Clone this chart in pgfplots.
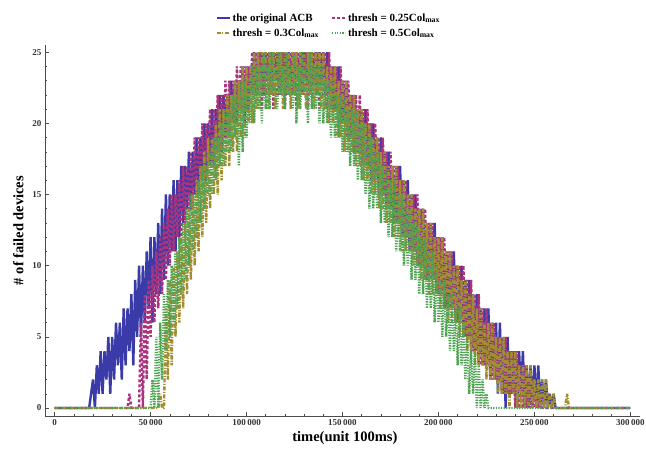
\documentclass[border=0pt]{standalone}
\usepackage{pgfplots}
\pgfplotsset{compat=1.18}
\usepackage{fontspec}
\setmainfont{Liberation Serif}
\definecolor{cblue}{RGB}{58,58,168}
\definecolor{cmag}{RGB}{168,52,125}
\definecolor{colive}{RGB}{162,142,50}
\definecolor{cgreen}{RGB}{78,163,82}
\begin{document}
\begin{tikzpicture}
\useasboundingbox (-45pt,-34pt) rectangle (601pt,416pt);
\begin{axis}[
  scale only axis, width=595pt, height=371pt,
  xmin=-5, xmax=305, ymin=-0.56, ymax=25.5,
  axis x line*=bottom, axis y line*=left,
  axis line style={draw=black!70, line width=0.6pt},
  tick align=inside,
  xtick={0,50,100,150,200,250,300}, minor x tick num=4,
  xticklabels={0,50\,000,100\,000,150\,000,200\,000,250\,000,300\,000},
  ytick={0,5,10,15,20,25}, minor y tick num=4,
  yticklabels={0,5,10,15,20,25},
  major tick length=4pt, minor tick length=2pt,
  tick style={black!70, line width=0.5pt},
  tick label style={font=\bfseries\fontsize{9}{10}\selectfont, text=black!80},
  xlabel={time(unit 100ms)},
  ylabel={\# of failed devices},
  label style={font=\bfseries\fontsize{14.5}{16}\selectfont},
  xlabel style={at={(axis description cs:0.504,-0.059)}, anchor=center},
  ylabel style={at={(axis description cs:-0.045,0.5)}, anchor=center},
  legend columns=2,
  legend style={draw=none, fill=none, font=\bfseries\fontsize{11}{13}\selectfont,
    at={(axis description cs:0.477,1.008)}, anchor=south,
    /tikz/every even column/.append style={column sep=10pt}, row sep=2pt},
  legend cell align=left,
  legend image code/.code={\draw[#1, line width=2pt] (0pt,0pt) -- (13pt,0pt);},
  every axis plot/.append style={line width=2.4pt, line join=bevel},
]
% x in units of 1000 (x 100 ms)
\addplot[cblue] coordinates {
(0,0)(18,0)
(19,1)(20,2)(21,0)(22,3)(23,1)(24,4)(25,1)(26,4)(27,2)(28,5)(29,1)(30,5)(31,2)(32,6)(33,3)(34,6)(35,2)(36,7)(37,3)(38,7)(39,4)(40,8)(41,3)(42,9)(43,5)(44,10)(45,5)(46,10)(47,6)(48,11)(49,7)(50,12)(51,6)(52,12)(53,8)(54,13)(55,8)(56,14)(57,9)(58,15)(59,10)(60,15)(61,11)(62,16)(63,11)(64,16)(65,12)(66,17)(67,13)(68,17)(69,14)(70,18)(71,14)(72,18)(73,15)(74,19)(75,15)(76,19)(77,16)(78,20)(79,16)(80,20)(81,17)(82,21)(83,17)(84,21)(85,18)(86,22)(87,18)(88,22)(89,19)(90,22)(91,19)(92,23)(93,20)(94,23)(95,20)(96,23)(97,21)(98,24)(99,20)(100,24)
(101,21)(102,24)(103,22)(104,25)(105,22)(106,25)(107,23)(108,25)(109,22)(110,25)(111,23)(112,25)(113,22)(114,25)(115,23)(116,25)(117,22)(118,25)(119,23)(120,25)(121,22)(122,25)(123,23)(124,25)(125,22)(126,25)(127,23)(128,25)(129,22)(130,25)(131,23)(132,25)(133,22)(134,25)(135,23)(136,25)(137,22)(138,25)(139,23)(140,25)(141,22)(142,25)(143,22)(144,24)(145,21)(146,24)(147,21)(148,24)(149,20)(150,23)
(151,20)(152,23)(153,19)(154,22)(155,19)(156,22)(157,18)(158,21)(159,18)(160,21)(161,17)(162,21)(163,17)(164,20)(165,16)(166,20)(167,16)(168,19)(169,15)(170,19)(171,15)(172,18)(173,14)(174,18)(175,14)(176,17)(177,13)(178,17)(179,13)(180,17)(181,12)(182,16)(183,12)(184,16)(185,11)(186,15)(187,11)(188,15)(189,10)(190,14)(191,10)(192,14)(193,9)(194,13)(195,9)(196,13)(197,9)(198,13)(199,8)(200,12)
(201,8)(202,12)(203,7)(204,11)(205,7)(206,11)(207,7)(208,11)(209,6)(210,10)(211,6)(212,10)(213,5)(214,9)(215,5)(216,9)(217,4)(218,8)(219,4)(220,8)(221,3)(222,7)(223,3)(224,7)(225,3)(226,7)(227,2)(228,6)(229,2)(230,6)(231,1)(232,6)(233,1)(234,5)(235,0)(236,5)(237,1)(238,4)(239,1)(240,4)(241,0)(242,4)(243,1)(244,4)(245,0)(246,3)(247,0)(248,3)(249,0)(250,3)
(251,0)(252,3)(253,0)(254,2)(255,0)(256,2)(257,0)(258,1)(259,0)(260,1)(261,0)(262,0)(300,0)
};
\addlegendentry{the original ACB}
\addplot[cmag, dash pattern=on 3pt off 2pt] coordinates {
(0,0)(38,0)(39,1)(40,0)(44,0)(45,6)(46,0)(47,8)(48,2)(49,9)(50,5)(51,10)(52,6)(53,11)(54,7)(55,12)(56,8)(57,13)(58,9)(59,14)(60,10)(61,15)(62,11)(63,15)(64,12)(65,16)(66,12)(67,17)(68,13)(69,17)(70,14)(71,18)(72,14)(73,19)(74,15)(75,19)(76,16)(77,20)(78,16)(79,20)(80,17)(81,21)(82,17)(83,21)(84,18)(85,22)(86,18)(87,22)(88,19)(89,23)(90,19)(91,23)(92,20)(93,23)(94,20)(95,24)(96,21)(97,24)(98,21)(99,24)(100,21)
(101,24)(102,22)(103,25)(104,22)(105,25)(106,22)(107,25)(108,21)(109,25)(110,22)(111,25)(112,22)(113,25)(114,21)(115,25)(116,22)(117,25)(118,22)(119,25)(120,21)(121,25)(122,22)(123,25)(124,22)(125,25)(126,21)(127,25)(128,22)(129,25)(130,22)(131,25)(132,21)(133,25)(134,22)(135,25)(136,22)(137,25)(138,21)(139,25)(140,22)(141,25)(142,21)(143,25)(144,21)(145,24)(146,21)(147,24)(148,20)(149,24)(150,20)
(151,23)(152,19)(153,23)(154,19)(155,22)(156,18)(157,22)(158,18)(159,22)(160,17)(161,21)(162,17)(163,21)(164,17)(165,20)(166,16)(167,20)(168,16)(169,19)(170,15)(171,19)(172,15)(173,18)(174,14)(175,18)(176,14)(177,17)(178,13)(179,17)(180,13)(181,16)(182,12)(183,16)(184,12)(185,15)(186,11)(187,15)(188,11)(189,15)(190,10)(191,14)(192,10)(193,14)(194,9)(195,13)(196,9)(197,13)(198,9)(199,12)(200,8)
(201,12)(202,8)(203,12)(204,7)(205,11)(206,7)(207,11)(208,7)(209,10)(210,6)(211,10)(212,6)(213,10)(214,5)(215,9)(216,5)(217,9)(218,4)(219,8)(220,4)(221,8)(222,3)(223,7)(224,3)(225,7)(226,3)(227,6)(228,2)(229,6)(230,2)(231,5)(232,2)(233,5)(234,1)(235,5)(236,1)(237,4)(238,1)(239,4)(240,0)(241,4)(242,0)(243,3)(244,0)(245,3)(246,0)(247,2)(248,0)(249,2)(250,0)
(251,1)(252,0)(253,1)(254,0)(300,0)
};
\addlegendentry{thresh = 0.25Col\textsubscript{max}}
\addplot[colive, dash pattern=on 4pt off 1.5pt on 1pt off 1.5pt] coordinates {
(0,0)(54,0)(55,1)(56,0)(57,0)(58,7)(59,2)(60,9)(61,3)(62,10)(63,5)(64,11)(65,6)(66,12)(67,7)(68,13)(69,8)(70,14)(71,9)(72,15)(73,10)(74,16)(75,11)(76,17)(77,12)(78,18)(79,13)(80,19)(81,14)(82,19)(83,15)(84,20)(85,15)(86,21)(87,16)(88,21)(89,17)(90,22)(91,17)(92,22)(93,18)(94,23)(95,18)(96,23)(97,19)(98,24)(99,19)(100,24)
(101,20)(102,24)(103,20)(104,25)(105,21)(106,25)(107,21)(108,25)(109,22)(110,25)(111,21)(112,25)(113,22)(114,25)(115,21)(116,25)(117,22)(118,25)(119,21)(120,25)(121,22)(122,25)(123,21)(124,25)(125,22)(126,25)(127,21)(128,25)(129,22)(130,25)(131,21)(132,25)(133,22)(134,25)(135,21)(136,25)(137,22)(138,25)(139,21)(140,25)(141,21)(142,24)(143,20)(144,24)(145,20)(146,24)(147,19)(148,23)(149,19)(150,23)
(151,18)(152,23)(153,18)(154,22)(155,18)(156,22)(157,17)(158,21)(159,17)(160,21)(161,16)(162,20)(163,16)(164,20)(165,15)(166,19)(167,15)(168,19)(169,14)(170,18)(171,14)(172,18)(173,13)(174,17)(175,13)(176,17)(177,12)(178,17)(179,12)(180,16)(181,11)(182,16)(183,11)(184,15)(185,11)(186,15)(187,10)(188,14)(189,10)(190,14)(191,9)(192,14)(193,9)(194,13)(195,8)(196,13)(197,8)(198,12)(199,8)(200,12)
(201,7)(202,12)(203,7)(204,11)(205,6)(206,11)(207,6)(208,10)(209,6)(210,10)(211,5)(212,9)(213,5)(214,9)(215,4)(216,8)(217,4)(218,8)(219,3)(220,7)(221,3)(222,7)(223,3)(224,6)(225,2)(226,6)(227,2)(228,6)(229,2)(230,5)(231,1)(232,5)(233,1)(234,5)(235,1)(236,4)(237,0)(238,4)(239,1)(240,4)(241,0)(242,3)(243,0)(244,3)(245,0)(246,3)(247,0)(248,3)(249,0)(250,2)
(251,0)(252,2)(253,0)(254,2)(255,0)(256,2)(257,0)(258,1)(259,0)(260,1)(261,0)(262,0)(266,0)(267,1)(268,0)(300,0)
};
\addlegendentry{thresh = 0.3Col\textsubscript{max}}
\addplot[cgreen, dash pattern=on 1.2pt off 1.4pt] coordinates {
(0,0)(50,0)(51,2)(52,0)(53,5)(54,0)(55,6)(56,2)(57,8)(58,4)(59,9)(60,5)(61,10)(62,6)(63,11)(64,7)(65,12)(66,8)(67,13)(68,9)(69,14)(70,10)(71,15)(72,11)(73,15)(74,12)(75,16)(76,13)(77,17)(78,14)(79,17)(80,15)(81,18)(82,15)(83,19)(84,16)(85,19)(86,17)(87,20)(88,17)(89,21)(90,18)(91,21)(92,18)(93,22)(94,19)(95,22)(96,17)(97,23)(98,18)(99,23)(100,19)
(101,23)(102,20)(103,24)(104,20)(105,24)(106,21)(107,24)(108,20)(109,25)(110,21)(111,24)(112,21)(113,25)(114,22)(115,24)(116,21)(117,25)(118,22)(119,24)(120,21)(121,25)(122,22)(123,24)(124,21)(125,25)(126,20)(127,24)(128,21)(129,25)(130,22)(131,24)(132,20)(133,25)(134,21)(135,24)(136,21)(137,24)(138,20)(139,24)(140,20)(141,23)(142,20)(143,23)(144,19)(145,23)(146,19)(147,22)(148,19)(149,22)(150,18)
(151,22)(152,18)(153,21)(154,17)(155,21)(156,17)(157,21)(158,16)(159,20)(160,16)(161,20)(162,15)(163,19)(164,14)(165,19)(166,14)(167,18)(168,14)(169,18)(170,13)(171,17)(172,13)(173,17)(174,12)(175,16)(176,12)(177,16)(178,11)(179,15)(180,11)(181,15)(182,10)(183,14)(184,10)(185,14)(186,9)(187,13)(188,9)(189,13)(190,8)(191,12)(192,8)(193,12)(194,7)(195,11)(196,7)(197,11)(198,6)(199,10)(200,6)
(201,9)(202,5)(203,9)(204,5)(205,8)(206,4)(207,8)(208,4)(209,7)(210,3)(211,7)(212,3)(213,6)(214,2)(215,5)(216,1)(217,4)(218,1)(219,4)(220,0)(221,3)(222,0)(223,2)(224,0)(225,1)(226,0)(300,0)
};
\addlegendentry{thresh = 0.5Col\textsubscript{max}}
\end{axis}
\end{tikzpicture}
\end{document}
